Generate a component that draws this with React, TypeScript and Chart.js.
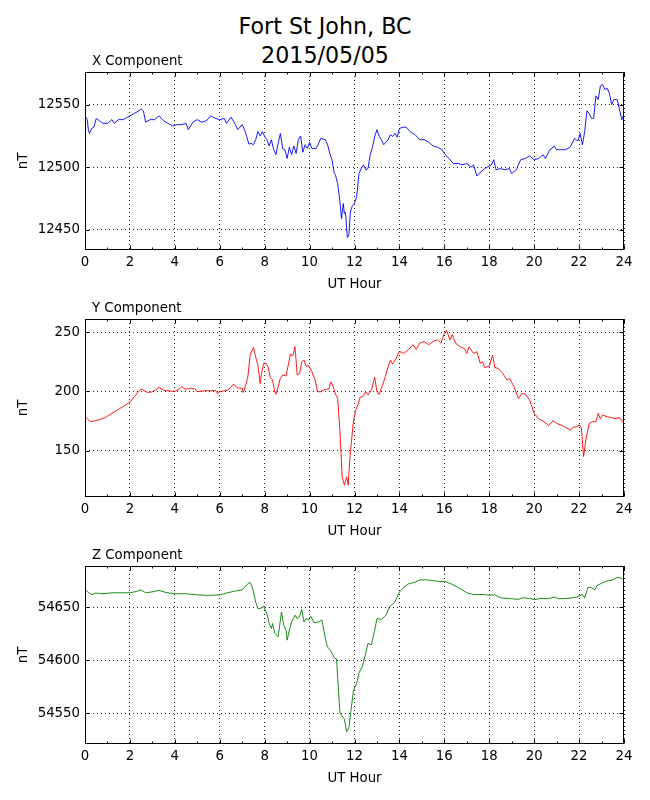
import { useEffect, useRef } from "react";
import Chart from "chart.js/auto";

// hour ticks shared by all three panels
const hourTicks = [0, 2, 4, 6, 8, 10, 12, 14, 16, 18, 20, 22, 24];
const minorHours = [1, 3, 5, 7, 9, 11, 13, 15, 17, 19, 21, 23];

// X component (nT)
const xHours = [
  0, 0.1, 0.15, 0.2, 0.3, 0.4, 0.5, 0.65, 0.8, 1.0, 1.2, 1.3, 1.5, 1.7, 1.9, 2.0, 2.2, 2.4, 2.5, 2.6,
  2.7, 2.9, 3.1, 3.3, 3.5, 3.7, 3.9, 4.1, 4.3, 4.5, 4.6, 4.8, 5.0, 5.2, 5.4, 5.6, 5.8, 6.0, 6.2, 6.3,
  6.5, 6.7, 6.8, 7.0, 7.1, 7.2, 7.3, 7.4, 7.5, 7.6, 7.7, 7.8, 7.9, 8.0, 8.1, 8.2, 8.3, 8.4, 8.5, 8.6,
  8.7, 8.8, 8.9, 9.0, 9.1, 9.2, 9.3, 9.4, 9.5, 9.6, 9.7, 9.8, 9.9, 10.0, 10.1, 10.3, 10.5, 10.7, 10.8, 10.9,
  11.0, 11.1, 11.15, 11.25, 11.35, 11.42, 11.5, 11.55, 11.6, 11.68, 11.75, 11.82, 11.9, 12.0, 12.1, 12.2, 12.3, 12.4, 12.5, 12.6,
  12.7, 12.8, 12.9, 13.0, 13.1, 13.2, 13.3, 13.4, 13.5, 13.6, 13.7, 13.8, 13.9, 14.0, 14.2, 14.3, 14.5, 14.7, 14.9, 15.1,
  15.3, 15.5, 15.7, 15.9, 16.0, 16.2, 16.4, 16.6, 16.8, 17.0, 17.2, 17.3, 17.45, 17.6, 17.8, 18.0, 18.1, 18.2, 18.3, 18.5,
  18.7, 18.9, 19.0, 19.2, 19.4, 19.6, 19.8, 20.0, 20.2, 20.4, 20.5, 20.7, 20.9, 21.0, 21.2, 21.4, 21.6, 21.8, 21.95, 22.05,
  22.15, 22.25, 22.35, 22.45, 22.55, 22.65, 22.75, 22.85, 22.95, 23.05, 23.15, 23.25, 23.35, 23.45, 23.55, 23.7, 23.8, 23.9, 24.0,
];
const xValues = [
  12541, 12538, 12530, 12527, 12531, 12532, 12539, 12537, 12535, 12535, 12538, 12535, 12538, 12538, 12540, 12541, 12543, 12545, 12546.5, 12545,
  12536, 12538, 12538, 12541, 12537, 12535, 12533, 12534, 12534, 12535, 12530, 12536, 12538, 12536, 12537, 12541, 12539, 12538, 12539, 12535,
  12540, 12534, 12530, 12534, 12530, 12524.5, 12518.5, 12519, 12518, 12522, 12528.5, 12525, 12528.5, 12524.5, 12522, 12517, 12522, 12514, 12510, 12519,
  12527, 12515, 12514, 12507, 12516, 12510, 12517, 12511, 12522, 12525, 12512, 12518, 12515, 12520, 12515, 12515, 12523, 12522, 12518, 12511,
  12506, 12495, 12494, 12487, 12473, 12459, 12471, 12463, 12464, 12444, 12446, 12465, 12469, 12471, 12477, 12495, 12499, 12502, 12498, 12499,
  12510, 12516, 12524.5, 12530, 12524.5, 12522, 12518, 12520, 12522, 12526, 12524.5, 12527, 12524, 12531, 12532, 12532, 12528, 12526, 12522, 12522,
  12520, 12517, 12516, 12514, 12511, 12507, 12503, 12503, 12502, 12503, 12500, 12502, 12493, 12496, 12499, 12501, 12502, 12506, 12498, 12499,
  12498, 12499, 12495, 12498, 12506, 12507, 12509, 12506, 12507, 12510, 12507, 12514, 12517, 12514, 12514, 12514, 12516, 12523, 12521, 12527,
  12518, 12528.5, 12545, 12543, 12539, 12539, 12557, 12554, 12565, 12566, 12562, 12563, 12559, 12550, 12554, 12554, 12546, 12538, 12542,
];
const xTicks = [12450, 12500, 12550];

// Y component (nT)
const yHours = [
  0, 0.1, 0.25, 0.4, 0.6, 0.9, 1.2, 1.5, 1.8, 2.0, 2.2, 2.4, 2.5, 2.6, 2.8, 3.0, 3.2, 3.3, 3.5, 3.8,
  4.0, 4.2, 4.3, 4.5, 4.7, 4.9, 5.0, 5.3, 5.6, 5.8, 5.9, 6.0, 6.2, 6.35, 6.5, 6.6, 6.8, 7.0, 7.05, 7.15,
  7.25, 7.35, 7.45, 7.5, 7.6, 7.7, 7.8, 7.85, 7.95, 8.05, 8.15, 8.25, 8.35, 8.45, 8.5, 8.6, 8.7, 8.8, 8.95, 9.05,
  9.15, 9.25, 9.35, 9.45, 9.55, 9.65, 9.75, 9.85, 9.95, 10.1, 10.25, 10.35, 10.5, 10.6, 10.75, 10.85, 10.95, 11.05, 11.15, 11.25,
  11.35, 11.45, 11.55, 11.65, 11.72, 11.8, 11.95, 12.05, 12.15, 12.25, 12.4, 12.5, 12.6, 12.75, 12.9, 13.0, 13.1, 13.3, 13.5, 13.6,
  13.7, 13.85, 14.0, 14.2, 14.4, 14.6, 14.75, 14.9, 15.1, 15.3, 15.5, 15.7, 15.85, 16.0, 16.1, 16.25, 16.35, 16.5, 16.7, 16.9,
  17.0, 17.1, 17.3, 17.45, 17.6, 17.7, 17.8, 18.0, 18.15, 18.25, 18.4, 18.6, 18.8, 18.9, 19.1, 19.3, 19.45, 19.6, 19.8, 20.0,
  20.2, 20.5, 20.65, 20.85, 21.0, 21.3, 21.6, 21.75, 21.9, 22.0, 22.1, 22.2, 22.3, 22.45, 22.6, 22.75, 22.85, 22.95, 23.05, 23.2,
  23.4, 23.6, 23.8, 24.0,
];
const yValues = [
  179, 177, 174.5, 175, 176, 178, 181.5, 185, 188.5, 191, 195.5, 200.5, 202, 201, 199, 199.7, 202, 203.4, 201, 200.3,
  200, 202, 204, 201.7, 202.8, 202, 199.7, 200.5, 200.5, 201, 198.3, 199.7, 200.5, 201, 203.4, 206, 203, 202.5, 199, 205,
  212, 230.6, 235, 237, 229, 222, 206.7, 213.8, 223.6, 224, 220.8, 211.8, 209.6, 199.7, 197.5, 204, 211, 213.8, 213, 222,
  231.5, 229.8, 237.6, 213.8, 215, 225, 226.4, 220.8, 222, 216.6, 209.6, 199.7, 199.7, 201, 201.7, 202, 208, 204, 197.8, 194,
  167.4, 128, 121, 128, 121, 145, 174.4, 184, 188.5, 195, 196, 199.7, 197, 201, 211.8, 199.7, 197.5, 208, 221, 226.4,
  223, 227.8, 233.7, 232, 235, 239.3, 235.4, 240.7, 242, 239.3, 242, 243.5, 240.7, 249, 251.4, 243.5, 247.8, 240.7, 237.6, 236,
  232, 237.6, 232, 233.4, 223.6, 225, 220, 221.3, 230.6, 220, 219.4, 215, 209.6, 211, 204, 194, 198.3, 197.8, 192.7, 181.5,
  177, 173.6, 171.3, 175.3, 173, 170.8, 167.4, 169.7, 170.2, 171.6, 170, 145, 159, 173, 174.4, 174.4, 181.5, 177, 180, 179,
  178, 177, 178, 173,
];
const yTicks = [150, 200, 250];

// Z component (nT)
const zHours = [
  0, 0.15, 0.3, 0.5, 0.8, 1.2, 1.6, 2.0, 2.3, 2.5, 2.7, 3.0, 3.3, 3.6, 4.0, 4.5, 5.0, 5.5, 6.0, 6.3,
  6.6, 7.0, 7.2, 7.35, 7.45, 7.6, 7.7, 7.8, 7.95, 8.1, 8.2, 8.3, 8.35, 8.45, 8.6, 8.75, 8.85, 8.95, 9.0, 9.1,
  9.2, 9.35, 9.45, 9.55, 9.65, 9.75, 9.85, 9.95, 10.05, 10.2, 10.4, 10.55, 10.7, 10.8, 10.9, 11.0, 11.1, 11.2, 11.35, 11.45,
  11.55, 11.65, 11.75, 11.85, 11.95, 12.1, 12.2, 12.35, 12.5, 12.6, 12.75, 12.9, 13.0, 13.2, 13.4, 13.55, 13.8, 14.0, 14.2, 14.4,
  14.7, 14.9, 15.2, 15.5, 15.8, 16.0, 16.3, 16.6, 17.0, 17.3, 17.7, 18.0, 18.25, 18.5, 19.0, 19.3, 19.5, 19.8, 20.0, 20.3,
  20.6, 20.9, 21.1, 21.5, 21.9, 22.15, 22.25, 22.4, 22.55, 22.7, 22.8, 23.0, 23.3, 23.5, 23.7, 23.85, 24.0,
];
const zValues = [
  54666.8, 54664, 54662, 54663.4, 54662.8, 54663.7, 54663.7, 54663.7, 54665, 54666.5, 54663.7, 54664.6, 54666, 54664, 54662.8, 54662.8, 54661.8, 54661.2, 54661.8, 54663.4,
  54665, 54666.5, 54671.2, 54673.7, 54669, 54655, 54648.8, 54648.8, 54651, 54644, 54634.7, 54630, 54634.7, 54625.4, 54622.3, 54645.6, 54633, 54628.5, 54619, 54628.5,
  54636.3, 54642.5, 54639.4, 54641, 54648, 54636.3, 54639.4, 54638, 54641.6, 54635.4, 54636.3, 54638, 54621, 54612.3, 54610.4, 54606.7, 54602, 54601.4, 54550.6, 54547.5,
  54544.4, 54532.6, 54536.6, 54553.7, 54570.9, 54578.7, 54588, 54594.2, 54606.7, 54616, 54614.5, 54628.5, 54639.4, 54638.5, 54642.5, 54650.3, 54655, 54664.3, 54669, 54672.1,
  54673.7, 54675.9, 54675.9, 54675.2, 54674.3, 54674.6, 54672.1, 54669, 54663.7, 54662.1, 54662.1, 54661.5, 54661.8, 54659, 54658.1, 54657.5, 54659, 54658.4, 54657.2, 54658.4,
  54658.1, 54659.7, 54658.1, 54658.4, 54659.7, 54662.1, 54659, 54669, 54668.4, 54666.5, 54670.6, 54672.7, 54675.2, 54675.9, 54678.3, 54677.7, 54675.9,
];
const zTicks = [54550, 54600, 54650];

const FONT = "DejaVu Sans";

interface PanelProps {
  title: string;
  hours: number[];
  values: number[];
  color: string;
  yMin: number;
  yMax: number;
  yTicks: number[];
  top: number;
}

// frame, inward tick marks and the small panel title
const framePlugin = {
  id: "frame",
  afterDraw(chart: any, _args: any, opts: any) {
    const { ctx, chartArea: a, scales } = chart;
    const L = Math.round(a.left) + 0.5;
    const R = Math.round(a.right) - 0.5;
    const T = Math.round(a.top) + 0.5;
    const B = Math.round(a.bottom) - 0.5;
    ctx.save();
    ctx.strokeStyle = "#000";
    ctx.lineWidth = 1;
    ctx.beginPath();
    hourTicks.forEach((h) => {
      const x = Math.round(scales.x.getPixelForValue(h)) + 0.5;
      ctx.moveTo(x, B); ctx.lineTo(x, B - 4);
      ctx.moveTo(x, T); ctx.lineTo(x, T + 4);
    });
    minorHours.forEach((h) => {
      const x = Math.round(scales.x.getPixelForValue(h)) + 0.5;
      ctx.moveTo(x, B); ctx.lineTo(x, B - 2);
      ctx.moveTo(x, T); ctx.lineTo(x, T + 2);
    });
    (opts.yTicks as number[]).forEach((v) => {
      const y = Math.round(scales.y.getPixelForValue(v)) + 0.5;
      ctx.moveTo(L, y); ctx.lineTo(L + 4, y);
      ctx.moveTo(R, y); ctx.lineTo(R - 4, y);
    });
    ctx.stroke();
    ctx.strokeRect(L, T, R - L, B - T);
    ctx.fillStyle = "#000";
    ctx.font = `13.3px "${FONT}"`;
    ctx.textAlign = "left";
    ctx.textBaseline = "alphabetic";
    ctx.fillText(opts.title, a.left + 7, a.top - 7);
    ctx.restore();
  },
};

const Panel = ({ title, hours, values, color, yMin, yMax, yTicks, top }: PanelProps) => {
  const canvasRef = useRef<HTMLCanvasElement>(null);

  useEffect(() => {
    if (!canvasRef.current) return;
    const ctx = canvasRef.current.getContext("2d");
    if (!ctx) return;

    const font = { family: FONT, size: 13.3 };

    const chart = new Chart(ctx, {
      type: "line",
      data: {
        datasets: [
          {
            data: hours.map((h, i) => ({ x: h, y: values[i] })),
            borderColor: color,
            borderWidth: 0.9,
            pointRadius: 0,
            tension: 0,
            fill: false,
          },
        ],
      },
      options: {
        responsive: false,
        animation: false,
        layout: { padding: { top: 40, right: 26, left: 0, bottom: 0 } },
        plugins: {
          legend: { display: false },
          tooltip: { enabled: false },
          frame: { title, yTicks },
        } as any,
        scales: {
          x: {
            type: "linear",
            min: 0,
            max: 24,
            afterBuildTicks: (s: any) => {
              s.ticks = hourTicks.map((v) => ({ value: v }));
            },
            afterFit: (s: any) => {
              s.height = 48;
            },
            grid: { color: "rgba(0,0,0,0.85)", lineWidth: 1, drawTicks: false },
            border: { display: false, dash: [1, 3] },
            ticks: {
              padding: 5,
              color: "#000",
              font,
              maxRotation: 0,
              autoSkip: false,
              callback: (v: any) => String(v),
            },
            title: {
              display: true,
              text: "UT Hour",
              color: "#000",
              font,
              padding: { top: 0, bottom: 5 },
            },
          },
          y: {
            type: "linear",
            min: yMin,
            max: yMax,
            afterBuildTicks: (s: any) => {
              s.ticks = yTicks.map((v) => ({ value: v }));
            },
            afterFit: (s: any) => {
              s.width = 85;
            },
            grid: { color: "rgba(0,0,0,0.85)", lineWidth: 1, drawTicks: false },
            border: { display: false, dash: [1, 3] },
            ticks: {
              padding: 5,
              color: "#000",
              font,
              callback: (v: any) => String(v),
            },
            title: {
              display: true,
              text: "nT",
              color: "#000",
              font,
              padding: { top: 16, bottom: 0 },
            },
          },
        },
      },
      plugins: [framePlugin],
    });

    return () => chart.destroy();
  }, [title, hours, values, color, yMin, yMax, yTicks]);

  return (
    <canvas
      ref={canvasRef}
      width={650}
      height={266}
      style={{ position: "absolute", left: 0, top: top - 40, width: 650, height: 266 }}
    />
  );
};

const App = () => {
  return (
    <div
      style={{
        position: "absolute",
        left: 0,
        top: 0,
        width: 650,
        height: 800,
        background: "#fff",
        overflow: "hidden",
      }}
    >
      <div
        style={{
          position: "absolute",
          top: 11.5,
          left: 0,
          width: 650,
          textAlign: "center",
          fontFamily: FONT,
          fontSize: 22.2,
          lineHeight: "29.7px",
          color: "#000",
        }}
      >
        Fort St John, BC
        <br />
        2015/05/05
      </div>
      <Panel title="X Component" hours={xHours} values={xValues} color="#0000ff" yMin={12434} yMax={12576} yTicks={xTicks} top={72} />
      <Panel title="Y Component" hours={yHours} values={yValues} color="#ff0000" yMin={111} yMax={261} yTicks={yTicks} top={319} />
      <Panel title="Z Component" hours={zHours} values={zValues} color="#008000" yMin={54521} yMax={54689} yTicks={zTicks} top={566} />
    </div>
  );
};

export default App;
